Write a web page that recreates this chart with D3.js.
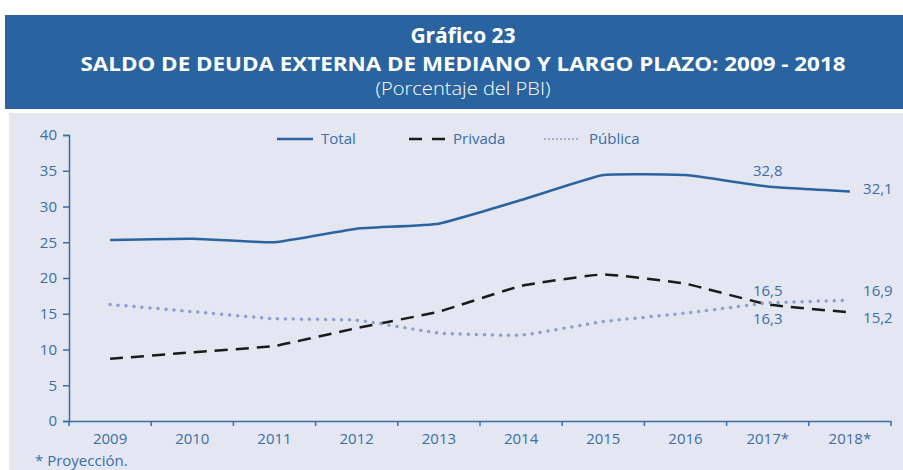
<!DOCTYPE html>
<html>
<head>
<meta charset="utf-8">
<script src="https://cdn.jsdelivr.net/npm/d3@7"></script>
<style>
  body { margin: 0; background: #fff; }
  text { font-family: "Open Sans", "Noto Sans", sans-serif; }
</style>
</head>
<body>
<svg id="chart" width="903" height="470"></svg>
<script>
var years = ["2009", "2010", "2011", "2012", "2013", "2014", "2015", "2016", "2017*", "2018*"];
var total = [25.3, 25.5, 25.0, 26.9, 27.6, 30.9, 34.4, 34.4, 32.8, 32.1];
var privada = [8.7, 9.6, 10.5, 13.0, 15.3, 18.9, 20.5, 19.2, 16.3, 15.2];
var publica = [16.3, 15.3, 14.3, 14.1, 12.3, 12.0, 13.9, 15.1, 16.5, 16.9];
var yTicks = [0, 5, 10, 15, 20, 25, 30, 35, 40];

var blue = "#2a64a0",
    axisCol = "#3a6ea8",
    dotCol = "#8a9fcf";

var svg = d3.select("#chart");

// title banner
svg.append("rect").attr("x", 5).attr("y", 15).attr("width", 898).attr("height", 94).style("fill", blue);
svg.append("text").attr("x", 463).attr("y", 43).attr("text-anchor", "middle")
    .style("fill", "#fff").style("font-size", "21px").style("font-weight", "bold").text("Gráfico 23");
svg.append("text").attr("x", 463).attr("y", 71).attr("text-anchor", "middle")
    .style("fill", "#fff").style("font-size", "20px").style("font-weight", "bold")
    .attr("textLength", 765).attr("lengthAdjust", "spacingAndGlyphs")
    .text("SALDO DE DEUDA EXTERNA DE MEDIANO Y LARGO PLAZO: 2009 - 2018");
svg.append("text").attr("x", 463).attr("y", 95).attr("text-anchor", "middle")
    .style("fill", "#fff").style("font-size", "18px").style("font-weight", "300")
    .attr("textLength", 175).attr("lengthAdjust", "spacingAndGlyphs")
    .text("(Porcentaje del PBI)");

// chart background
svg.append("rect").attr("x", 9).attr("y", 113).attr("width", 894).attr("height", 357).style("fill", "#e4e6f1");

var x = d3.scaleBand().domain(years).range([69, 891]);
var y = d3.scaleLinear().domain([0, 40]).range([421, 135]);

var xAxis = svg.append("g").attr("transform", "translate(0,421)")
    .call(d3.axisBottom(x).tickSize(0).tickPadding(12));
xAxis.select(".domain").style("stroke", axisCol).style("stroke-width", 1.5);
xAxis.selectAll("text").style("fill", axisCol).style("font-size", "15px").attr("font-family", null);

// band boundary ticks
svg.selectAll(".xtick").data(d3.range(years.length + 1)).enter().append("line")
    .attr("x1", function (d) { return 69 + d * x.step(); })
    .attr("x2", function (d) { return 69 + d * x.step(); })
    .attr("y1", 421).attr("y2", 426)
    .style("stroke", axisCol).style("stroke-width", 1.5);

var yAxis = svg.append("g").attr("transform", "translate(69,0)")
    .call(d3.axisLeft(y).tickValues(yTicks).tickSize(6).tickPadding(6));
yAxis.select(".domain").style("stroke", axisCol).style("stroke-width", 1.5);
yAxis.selectAll("line").style("stroke", axisCol).style("stroke-width", 1.5);
yAxis.selectAll("text").style("fill", axisCol).style("font-size", "15px").attr("font-family", null);

var line = d3.line()
    .x(function (d, i) { return x(years[i]) + x.bandwidth() / 2; })
    .y(function (d) { return y(d); })
    .curve(d3.curveCardinal.tension(0.65));

svg.append("path").datum(total).attr("d", line)
    .style("fill", "none").style("stroke", blue).style("stroke-width", 2.5);
svg.append("path").datum(privada).attr("d", line)
    .style("fill", "none").style("stroke", "#1a1a1a").style("stroke-width", 2.5)
    .style("stroke-dasharray", "13,8");
svg.append("path").datum(publica).attr("d", line)
    .style("fill", "none").style("stroke", dotCol).style("stroke-width", 3.5)
    .style("stroke-linecap", "round").style("stroke-dasharray", "0,8");

// legend
var legend = [
    { name: "Total", x: 277, color: blue, dash: null, w: 2.5, cap: "butt" },
    { name: "Privada", x: 409, color: "#1a1a1a", dash: "13,10", w: 2.5, cap: "butt" },
    { name: "Pública", x: 545, color: dotCol, dash: "0,4", w: 2, cap: "round" }
];
legend.forEach(function (l) {
    svg.append("line").attr("x1", l.x).attr("x2", l.x + 36).attr("y1", 139).attr("y2", 139)
        .style("stroke", l.color).style("stroke-width", l.w).style("stroke-linecap", l.cap)
        .style("stroke-dasharray", l.dash);
    svg.append("text").attr("x", l.x + 44).attr("y", 144).style("fill", axisCol)
        .style("font-size", "15px").text(l.name);
});

// value labels
var fmt = function (v) { return v.toFixed(1).replace(".", ","); };
var labels = [
    { i: 8, v: total[8], dx: 0, dy: -10 },
    { i: 9, v: total[9], dx: 28, dy: 3 },
    { i: 8, v: publica[8], dx: 0, dy: -7 },
    { i: 8, v: privada[8], dx: 0, dy: 20 },
    { i: 9, v: publica[9], dx: 28, dy: -4 },
    { i: 9, v: privada[9], dx: 28, dy: 11 }
];
labels.forEach(function (l) {
    svg.append("text")
        .attr("x", x(years[l.i]) + x.bandwidth() / 2 + l.dx)
        .attr("y", y(l.v) + l.dy)
        .attr("text-anchor", "middle")
        .style("fill", axisCol).style("font-size", "15px")
        .text(fmt(l.v));
});

svg.append("text").attr("x", 35).attr("y", 466).style("fill", axisCol)
    .style("font-size", "15px").text("* Proyección.");
</script>
</body>
</html>
